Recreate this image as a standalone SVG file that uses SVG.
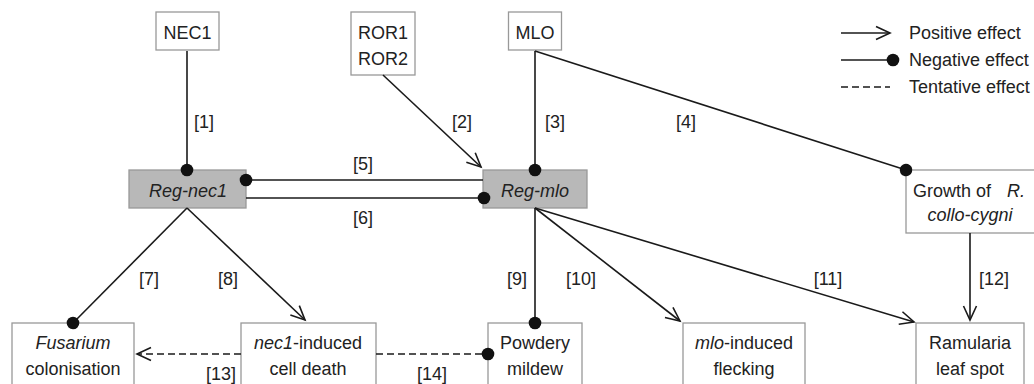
<svg xmlns="http://www.w3.org/2000/svg" width="1034" height="384" viewBox="0 0 1034 384">
<style>
text{font-family:"Liberation Sans",Arial,sans-serif;font-size:18px;fill:#222}
.c{text-anchor:middle}
.i{font-style:italic}
.box{fill:#fff;stroke:#999;stroke-width:1.3}
.reg{fill:#b8b8b8;stroke:#999;stroke-width:1.3}
.ln{stroke:#1a1a1a;stroke-width:1.6;fill:none}
.pos{marker-end:url(#arr)}
.neg{marker-end:url(#dot)}
.dash{stroke-dasharray:7 4}
</style>
<defs>
<marker id="arr" markerUnits="userSpaceOnUse" markerWidth="20" markerHeight="16" viewBox="-16 -8 20 16" refX="0" refY="0" orient="auto" overflow="visible">
<path d="M-14,-6.5 L0,0 L-14,6.5" fill="none" stroke="#1a1a1a" stroke-width="1.6"/>
</marker>
<marker id="dot" markerUnits="userSpaceOnUse" markerWidth="14" markerHeight="14" viewBox="-7 -7 14 14" refX="0" refY="0" orient="auto" overflow="visible">
<circle cx="0" cy="0" r="6.3" fill="#111"/>
</marker>
</defs>

<g id="NEC1"><rect class="box" x="156" y="12" width="63" height="38"/><text class="c" x="187.5" y="39">NEC1</text></g>
<g id="ROR"><rect class="box" x="351" y="12" width="64" height="63"/><text class="c" x="383" y="39">ROR1</text><text class="c" x="383" y="65">ROR2</text></g>
<g id="MLO"><rect class="box" x="508.5" y="12" width="53" height="38"/><text class="c" x="535" y="39">MLO</text></g>
<g id="Reg-nec1"><rect class="reg" x="129" y="170" width="117" height="38"/><text class="c i" x="188" y="197">Reg-nec1</text></g>
<g id="Reg-mlo"><rect class="reg" x="483" y="170" width="104" height="38"/><text class="c i" x="535" y="197">Reg-mlo</text></g>
<g id="Growth"><rect class="box" x="906" y="170" width="130" height="63"/><text x="913" y="197">Growth of <tspan class="i" x="1007">R.</tspan></text><text class="c i" x="970" y="221">collo-cygni</text></g>
<g id="Fusarium"><rect class="box" x="12" y="323" width="122" height="70"/><text class="c i" x="73" y="349">Fusarium</text><text class="c" x="73" y="375">colonisation</text></g>
<g id="nec1-death"><rect class="box" x="241" y="323" width="135" height="70"/><text class="c" x="308" y="349"><tspan class="i">nec1</tspan>-induced</text><text class="c" x="308" y="375">cell death</text></g>
<g id="Powdery"><rect class="box" x="488" y="323" width="94" height="70"/><text class="c" x="535" y="349">Powdery</text><text class="c" x="535" y="375">mildew</text></g>
<g id="mlo-flecking"><rect class="box" x="683" y="323" width="122" height="70"/><text class="c" x="744" y="349"><tspan class="i">mlo</tspan>-induced</text><text class="c" x="744" y="375">flecking</text></g>
<g id="Ramularia"><rect class="box" x="916" y="323" width="108" height="70"/><text class="c" x="970" y="349">Ramularia</text><text class="c" x="970" y="375">leaf spot</text></g>

<g id="connectors">
<line class="ln neg" x1="187" y1="51" x2="187" y2="170"/>
<line class="ln pos" x1="383" y1="75" x2="481" y2="167"/>
<line class="ln neg" x1="535" y1="51" x2="535" y2="170"/>
<line class="ln neg" x1="535" y1="51" x2="906" y2="170"/>
<line class="ln neg" x1="483" y1="180" x2="246" y2="180"/>
<line class="ln neg" x1="246" y1="198" x2="484" y2="198"/>
<line class="ln neg" x1="187" y1="208" x2="73" y2="323"/>
<line class="ln pos" x1="187" y1="208" x2="305" y2="320"/>
<line class="ln neg" x1="535" y1="208" x2="535" y2="323"/>
<line class="ln pos" x1="535" y1="208" x2="680" y2="321"/>
<line class="ln pos" x1="535" y1="208" x2="914" y2="322"/>
<line class="ln pos" x1="970" y1="233" x2="970" y2="320"/>
<line class="ln dash pos" x1="241" y1="354" x2="137" y2="354"/>
<line class="ln dash neg" x1="376" y1="354" x2="488" y2="354"/>
</g>

<g id="edge-labels">
<text class="c" x="204" y="128">[1]</text>
<text class="c" x="462" y="128">[2]</text>
<text class="c" x="555" y="128">[3]</text>
<text class="c" x="686" y="128">[4]</text>
<text class="c" x="363" y="170">[5]</text>
<text class="c" x="363" y="224">[6]</text>
<text class="c" x="149" y="285">[7]</text>
<text class="c" x="228" y="285">[8]</text>
<text class="c" x="517" y="285">[9]</text>
<text class="c" x="581" y="285">[10]</text>
<text class="c" x="828" y="285">[11]</text>
<text class="c" x="994" y="285">[12]</text>
<text class="c" x="221" y="380">[13]</text>
<text class="c" x="432" y="380">[14]</text>
</g>

<g id="legend">
<line class="ln pos" x1="841" y1="33" x2="890" y2="33"/>
<text x="909" y="39">Positive effect</text>
<line class="ln neg" x1="841" y1="60" x2="893" y2="60"/>
<text x="909" y="66">Negative effect</text>
<line class="ln dash" x1="841" y1="87" x2="890" y2="87"/>
<text x="909" y="93">Tentative effect</text>
</g>
</svg>
